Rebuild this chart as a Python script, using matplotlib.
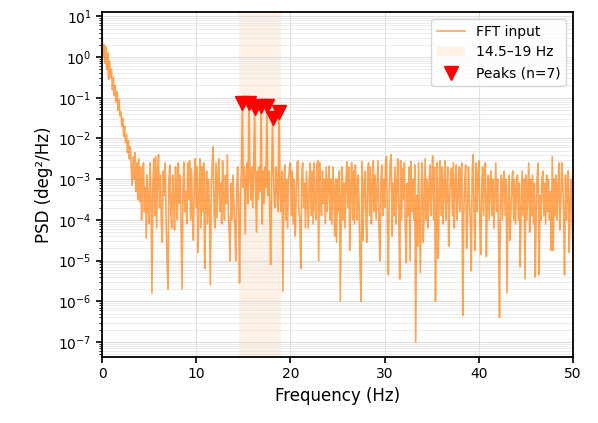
import numpy as np
import matplotlib
matplotlib.use("Agg")
import matplotlib.pyplot as plt

# frequency grid (Hz), 0.1 Hz resolution
freq_step = 0.1
n_bins = 501

# PSD values as log10 exponents (one row = 1 Hz)
psd_log10 = [
    0.72, 0.0, 0.3, -0.15, 0.25, -0.3, 0.1, -0.55, -0.1, -0.5,
    -0.3, -0.8, -0.5, -0.95, -0.7, -1.1, -0.85, -1.3, -1.05, -1.45,
    -1.35, -1.7, -1.5, -1.95, -1.7, -2.1, -1.9, -2.35, -2.05, -2.5,
    -2.2, -2.7, -3.15, -2.45, -3.0, -2.35, -3.3, -2.6, -3.5, -2.5,
    -3.55, -2.7, -4.0, -3.0, -2.6, -3.8, -3.2, -4.45, -2.9, -3.6,
    -4.1, -2.6, -3.5, -5.8, -3.1, -2.5, -3.9, -2.45, -4.2, -2.8,
    -2.4, -3.7, -2.9, -4.1, -4.55, -2.8, -3.4, -2.6, -3.9, -5.0,
    -5.7, -3.0, -2.65, -3.8, -4.2, -2.9, -3.5, -4.25, -2.7, -3.3,
    -4.0, -2.6, -3.6, -2.9, -4.3, -5.7, -3.1, -2.58, -3.8, -3.3,
    -4.1, -2.6, -3.5, -2.55, -4.0, -2.75, -3.9, -4.5, -3.0, -2.5,
    -3.7, -2.7, -4.8, -3.4, -2.5, -4.2, -2.7, -3.8, -2.6, -5.2,
    -3.6, -2.8, -4.1, -3.0, -3.7, -5.6, -3.2, -2.6, -2.2, -3.9,
    -4.2, -2.6, -3.95, -2.9, -2.5, -3.8, -3.1, -4.1, -2.55, -3.5,
    -4.0, -2.9, -3.6, -2.4, -3.8, -4.3, -5.0, -3.1, -4.0, -2.9,
    -3.6, -4.2, -5.0, -3.3, -2.7, -3.9, -5.55, -3.4, -2.8, -1.14,
    -3.2, -2.7, -4.35, -3.0, -2.6, -3.6, -1.14, -2.8, -3.5, -2.7,
    -3.7, -2.75, -1.25, -3.1, -4.3, -2.8, -3.5, -2.7, -3.3, -1.2,
    -4.1, -2.8, -3.6, -2.7, -3.2, -1.2, -3.4, -2.8, -3.7, -5.1,
    -3.1, -1.5, -2.8, -3.6, -3.7, -2.7, -3.3, -3.8, -1.35, -3.2,
    -3.8, -2.8, -5.75, -3.1, -2.65, -4.0, -3.0, -4.2, -3.0, -2.7,
    -2.6, -3.9, -2.8, -4.1, -3.0, -4.4, -3.6, -2.6, -2.55, -3.8,
    -4.0, -5.2, -2.9, -2.6, -3.7, -3.1, -4.2, -2.8, -3.5, -4.2,
    -3.0, -2.6, -3.9, -2.8, -4.1, -2.6, -3.6, -4.0, -2.7, -2.55,
    -5.0, -2.6, -3.5, -3.9, -2.8, -3.6, -3.0, -4.1, -2.7, -3.8,
    -3.1, -2.68, -4.0, -3.0, -4.1, -2.7, -3.3, -4.4, -3.0, -4.55,
    -3.0, -3.8, -2.8, -6.0, -3.5, -2.7, -4.0, -3.1, -4.2, -3.0,
    -2.57, -3.7, -2.7, -4.75, -3.3, -2.6, -4.0, -2.8, -4.1, -2.65,
    -3.4, -4.0, -2.9, -3.7, -5.2, -6.0, -2.57, -4.5, -3.2, -2.8,
    -3.8, -4.55, -2.8, -2.6, -3.9, -2.7, -4.1, -3.2, -2.55, -3.8,
    -2.9, -4.0, -3.3, -2.55, -4.2, -5.0, -3.1, -2.65, -3.9, -3.0,
    -3.7, -2.6, -2.45, -4.0, -5.35, -3.2, -2.6, -2.4, -4.4, -3.1,
    -3.9, -2.7, -4.1, -3.1, -2.5, -3.8, -5.45, -2.55, -4.0, -2.75,
    -3.5, -2.6, -4.2, -5.05, -3.1, -3.9, -2.7, -5.0, -2.57, -3.8,
    -3.0, -4.0, -2.65, -7.0, -3.4, -4.65, -2.6, -3.9, -5.3, -3.1,
    -2.6, -4.55, -3.7, -2.5, -4.0, -3.0, -4.2, -3.3, -2.65, -3.9,
    -3.1, -2.43, -4.0, -2.7, -6.0, -3.7, -2.6, -4.95, -3.4, -2.55,
    -3.9, -2.7, -4.1, -3.1, -2.55, -4.0, -3.3, -2.7, -4.65, -3.6,
    -2.8, -2.73, -3.9, -2.6, -4.2, -3.1, -2.65, -4.0, -3.4, -2.7,
    -3.8, -2.75, -2.6, -6.35, -3.9, -3.1, -2.65, -4.7, -4.0, -2.7,
    -3.5, -4.1, -5.25, -2.8, -2.4, -3.9, -4.75, -2.6, -3.8, -2.9,
    -2.55, -4.0, -4.85, -3.3, -2.7, -3.9, -2.8, -2.6, -4.9, -3.5,
    -2.9, -4.0, -3.1, -2.8, -3.9, -3.0, -4.2, -3.4, -2.6, -3.8,
    -3.0, -4.45, -6.4, -3.4, -2.9, -4.0, -3.1, -2.8, -3.9, -3.0,
    -5.8, -3.6, -2.9, -4.5, -3.9, -3.1, -2.8, -4.0, -3.0, -4.1,
    -3.2, -2.9, -4.0, -3.1, -5.15, -3.7, -2.8, -3.9, -3.0, -5.45,
    -2.9, -4.0, -3.3, -2.6, -4.3, -3.0, -3.9, -2.9, -4.1, -3.1,
    -5.4, -3.7, -2.9, -2.6, -5.35, -3.4, -4.0, -3.0, -2.8, -3.9,
    -3.1, -4.1, -2.9, -3.8, -3.0, -4.0, -3.3, -4.75, -2.45, -4.75,
    -3.0, -3.9, -2.9, -4.0, -3.2, -2.6, -4.25, -3.6, -2.6, -3.1,
    -3.8, -5.35, -2.9, -4.0, -3.3, -2.8, -4.8, -3.6, -3.0, -4.0,
    -4.7,
]

# detected peak frequencies (Hz)
peak_freqs = [14.9, 15.6, 16.2, 16.9, 17.5, 18.1, 18.8]

band_lo, band_hi = 14.5, 19.0

freqs = np.arange(n_bins) * freq_step
psd = 10.0 ** np.array(psd_log10)
peak_idx = [int(round(f / freq_step)) for f in peak_freqs]

fig = plt.figure(figsize=(5.98, 4.23), dpi=100)
ax = fig.add_axes([0.1706, 0.156, 0.7876, 0.8156])

span = ax.axvspan(band_lo, band_hi, color='tab:orange', alpha=0.1, lw=0,
                  zorder=1)
line, = ax.semilogy(freqs, psd, color='tab:orange', alpha=0.7, lw=1.2,
                    zorder=2)
pk, = ax.plot(freqs[peak_idx], psd[peak_idx], 'v', color='red', ms=10, lw=0,
              zorder=3)

ax.set_xlim(0, 50)
ax.set_ylim(10 ** -7.37, 10 ** 1.106)
ax.set_xlabel('Frequency (Hz)', fontsize=12)
ax.set_ylabel('PSD (deg\u00b2/Hz)', fontsize=12)
ax.grid(True, which='major', color='#d8d8d8', lw=0.8, alpha=0.8)
ax.grid(True, which='minor', axis='y', color='#e4e4e4', lw=0.6, alpha=0.8)
for s in ax.spines.values():
    s.set_linewidth(1.3)
ax.tick_params(which='major', width=1.2, length=4, labelsize=10)

ax.legend([line, span, pk],
          ['FFT input', '14.5\u201319 Hz', f'Peaks (n={len(peak_freqs)})'],
          loc='upper right', fontsize=10)

fig.savefig('out.png', dpi=100)
